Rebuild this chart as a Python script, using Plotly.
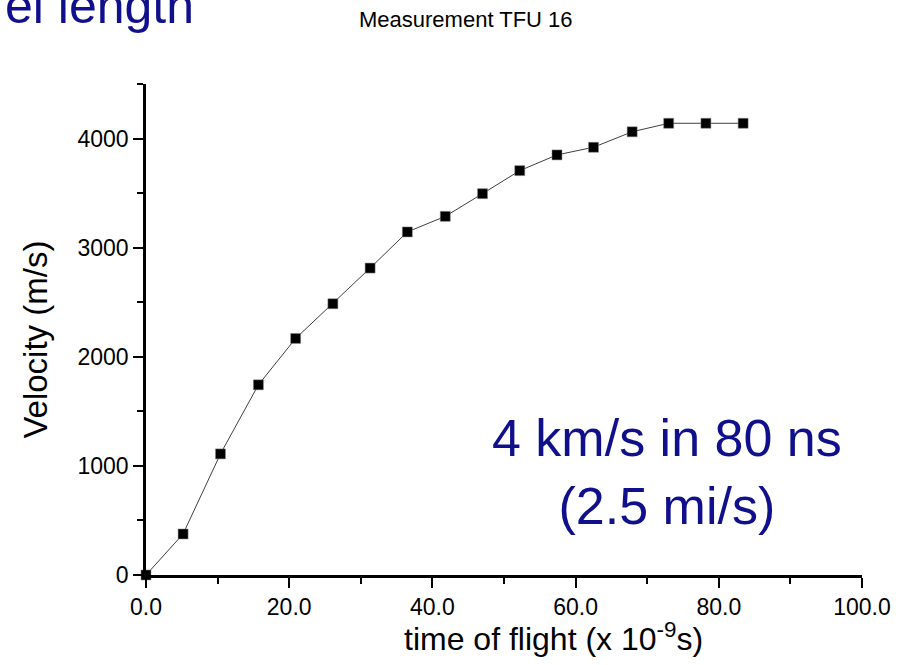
import plotly.graph_objects as go

# Data
time_ns = [0, 5.18, 10.4, 15.7, 20.9, 26.1, 31.3, 36.5, 41.8, 47.0, 52.2,
           57.4, 62.5, 67.9, 73.0, 78.2, 83.4]
velocity = [0, 376, 1110, 1743, 2168, 2486, 2813, 3144, 3287, 3495, 3706,
            3850, 3920, 4062, 4140, 4140, 4140]

x_tickvals = [0, 20, 40, 60, 80, 100]
x_ticktext = ["0.0", "20.0", "40.0", "60.0", "80.0", "100.0"]
y_tickvals = [0, 1000, 2000, 3000, 4000]
y_ticktext = ["0", "1000", "2000", "3000", "4000"]

W, H = 903, 665
L, R, T, B = 146, 37, 84, 90
PW, PH = W - L - R, H - T - B


def px(xp):
    return (xp - L) / PW


def py(yp):
    return (H - B - yp) / PH


FONT = "Liberation Sans, Arial, sans-serif"
BLUE = "#10108c"

fig = go.Figure()
fig.add_trace(go.Scatter(
    x=time_ns, y=velocity, mode="lines+markers",
    line=dict(color="#404040", width=1),
    marker=dict(symbol="square", size=10, color="black",
                line=dict(color="#888888", width=0.5)),
    cliponaxis=False, showlegend=False,
))

axis_common = dict(
    showgrid=False, zeroline=False, showline=True, linecolor="black",
    linewidth=2.5, ticks="outside", ticklen=10, tickwidth=2,
    tickcolor="black", tickfont=dict(family=FONT, size=23, color="black"),
)

fig.update_xaxes(range=[0, 100], tickvals=x_tickvals, ticktext=x_ticktext,
                 minor=dict(dtick=10, tick0=0, ticks="outside", ticklen=6,
                            tickwidth=2, tickcolor="black"),
                 **axis_common)
fig.update_yaxes(range=[0, 4500], tickvals=y_tickvals, ticktext=y_ticktext,
                 minor=dict(dtick=500, tick0=0, ticks="outside", ticklen=6,
                            tickwidth=2, tickcolor="black"),
                 **axis_common)

annotations = [
    dict(text="Measurement TFU 16", x=px(468), y=py(20), xanchor="center",
         yanchor="middle", font=dict(family=FONT, size=22, color="black")),
    dict(text="el length", x=px(196), y=py(6), xanchor="right",
         yanchor="middle", font=dict(family=FONT, size=50, color=BLUE)),
    dict(text="4 km/s in 80 ns<br>(2.5 mi/s)", x=px(670), y=py(472),
         xanchor="center", yanchor="middle",
         font=dict(family=FONT, size=52, color=BLUE)),
    dict(text="Velocity (m/s)", x=px(34), y=py(340), textangle=-90,
         xanchor="center", yanchor="middle",
         font=dict(family=FONT, size=33, color="black")),
    dict(text="time of flight (x 10<sup>-9</sup>s)", x=px(556), y=py(637),
         xanchor="center", yanchor="middle",
         font=dict(family=FONT, size=32, color="black")),
]
for a in annotations:
    a.update(xref="paper", yref="paper", showarrow=False)

fig.update_layout(
    width=W, height=H, margin=dict(l=L, r=R, t=T, b=B),
    paper_bgcolor="white", plot_bgcolor="white",
    annotations=annotations,
)

fig.write_html("out.html")
